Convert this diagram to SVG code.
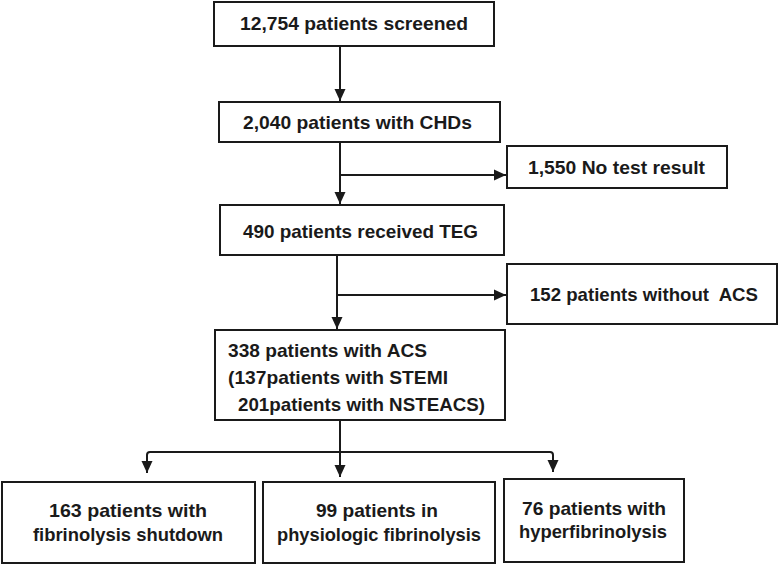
<svg xmlns="http://www.w3.org/2000/svg" width="778" height="565" viewBox="0 0 778 565">
<style>
.box{fill:#fff;stroke:#1a1a1a;stroke-width:2}
.t{font-family:"Liberation Sans",Arial,sans-serif;font-size:18.5px;font-weight:bold;fill:#1a1a1a}
.c{fill:none;stroke:#1a1a1a;stroke-width:2}
</style>
<defs>
<marker id="ah" markerUnits="userSpaceOnUse" markerWidth="12" markerHeight="12" viewBox="0 0 12 12" refX="12" refY="6" orient="auto">
<path d="M0,0.5 L12,6 L0,11.5 Z" fill="#1a1a1a"/>
</marker>
</defs>
<rect width="778" height="565" fill="#fff"/>
<g id="connectors">
<path class="c" d="M340,46 V101" marker-end="url(#ah)"/>
<path class="c" d="M340,142 V204" marker-end="url(#ah)"/>
<path class="c" d="M340,175 H506" marker-end="url(#ah)"/>
<path class="c" d="M337,255 V329" marker-end="url(#ah)"/>
<path class="c" d="M337,295 H506" marker-end="url(#ah)"/>
<path class="c" d="M340,420 V477" marker-end="url(#ah)"/>
<path class="c" d="M147,473 V455 Q147,452 150,452 H550 Q553,452 553,455 V472" />
<path class="c" d="M147,460 V473" marker-end="url(#ah)"/>
<path class="c" d="M553,460 V472" marker-end="url(#ah)"/>
</g>
<g id="n1">
<rect class="box" x="214" y="2" width="280" height="44"/>
<text class="t" x="240" y="30" textLength="228" lengthAdjust="spacingAndGlyphs">12,754 patients screened</text>
</g>
<g id="n2">
<rect class="box" x="219" y="102" width="281" height="40"/>
<text class="t" x="243" y="129" textLength="229" lengthAdjust="spacingAndGlyphs">2,040 patients with CHDs</text>
</g>
<g id="n3">
<rect class="box" x="507" y="146" width="220" height="42"/>
<text class="t" x="528" y="174" textLength="177" lengthAdjust="spacingAndGlyphs">1,550 No test result</text>
</g>
<g id="n4">
<rect class="box" x="220" y="205" width="284" height="50"/>
<text class="t" x="243" y="238" textLength="235" lengthAdjust="spacingAndGlyphs">490 patients received TEG</text>
</g>
<g id="n5">
<rect class="box" x="507" y="264" width="270" height="60"/>
<text class="t" x="530" y="301" textLength="228" lengthAdjust="spacingAndGlyphs">152 patients without&#160; ACS</text>
</g>
<g id="n6">
<rect class="box" x="215" y="330" width="290" height="90"/>
<text class="t" x="228" y="357" textLength="199" lengthAdjust="spacingAndGlyphs">338 patients with ACS</text>
<text class="t" x="228" y="384" textLength="220" lengthAdjust="spacingAndGlyphs">(137patients with STEMI</text>
<text class="t" x="238" y="411" textLength="247" lengthAdjust="spacingAndGlyphs">201patients with NSTEACS)</text>
</g>
<g id="n7">
<rect class="box" x="2" y="482" width="253" height="81"/>
<text class="t" x="49" y="517" textLength="158" lengthAdjust="spacingAndGlyphs">163 patients with</text>
<text class="t" x="33" y="541" textLength="190" lengthAdjust="spacingAndGlyphs">fibrinolysis shutdown</text>
</g>
<g id="n8">
<rect class="box" x="263" y="482" width="232" height="81"/>
<text class="t" x="316" y="517" textLength="122" lengthAdjust="spacingAndGlyphs">99 patients in</text>
<text class="t" x="277" y="541" textLength="204" lengthAdjust="spacingAndGlyphs">physiologic fibrinolysis</text>
</g>
<g id="n9">
<rect class="box" x="504" y="479" width="180" height="83"/>
<text class="t" x="522" y="515" textLength="144" lengthAdjust="spacingAndGlyphs">76 patients with</text>
<text class="t" x="519" y="538" textLength="148" lengthAdjust="spacingAndGlyphs">hyperfibrinolysis</text>
</g>
</svg>
